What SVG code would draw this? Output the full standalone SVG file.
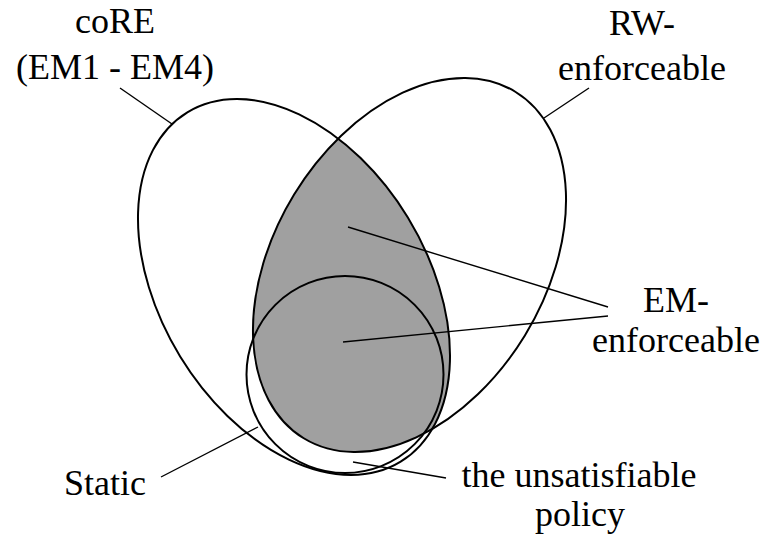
<svg xmlns="http://www.w3.org/2000/svg" width="764" height="540" viewBox="0 0 764 540">
  <style>
    .set { fill: none; stroke: #000; stroke-width: 2; }
    .lead { fill: none; stroke: #000; stroke-width: 1.4; }
    .lbl { font-family: "Liberation Serif", "Times New Roman", serif; font-size: 36px; fill: #000; text-anchor: middle; }
  </style>
  <defs>
    <clipPath id="coreClip">
      <ellipse cx="294" cy="287" rx="204.7" ry="133.4" transform="rotate(58.6 294 287)"/>
    </clipPath>
  </defs>
  <rect width="764" height="540" fill="#fff"/>

  <!-- EM-enforceable: intersection of coRE and RW-enforceable -->
  <g id="em-enforceable">
    <g clip-path="url(#coreClip)">
      <ellipse cx="409.5" cy="265" rx="203" ry="135.2" transform="rotate(-58.6 409.5 265)" fill="#a0a0a0"/>
    </g>
    <text class="lbl" x="676" y="312">EM-</text>
    <text class="lbl" x="676" y="352">enforceable</text>
  </g>

  <g id="core">
    <ellipse class="set" cx="294" cy="287" rx="204.7" ry="133.4" transform="rotate(58.6 294 287)"/>
    <text class="lbl" x="115" y="33">coRE</text>
    <text class="lbl" x="115" y="79">(EM1 - EM4)</text>
  </g>

  <g id="rw-enforceable">
    <ellipse class="set" cx="409.5" cy="265" rx="203" ry="135.2" transform="rotate(-58.6 409.5 265)"/>
    <text class="lbl" x="642" y="35">RW-</text>
    <text class="lbl" x="642" y="80">enforceable</text>
  </g>

  <g id="static">
    <circle class="set" cx="345" cy="374.5" r="98.5"/>
    <text class="lbl" x="105" y="495">Static</text>
  </g>

  <g id="unsatisfiable">
    <text class="lbl" x="579" y="487">the unsatisfiable</text>
    <text class="lbl" x="580" y="526">policy</text>
  </g>

  <g id="connectors">
    <line class="lead" x1="120" y1="88" x2="172" y2="124"/>
    <line class="lead" x1="589" y1="88" x2="544" y2="118"/>
    <line class="lead" x1="348" y1="227" x2="608" y2="307"/>
    <line class="lead" x1="343" y1="342" x2="608" y2="316"/>
    <line class="lead" x1="161" y1="477" x2="258" y2="427"/>
    <line class="lead" x1="353" y1="462" x2="446" y2="478"/>
  </g>
</svg>
